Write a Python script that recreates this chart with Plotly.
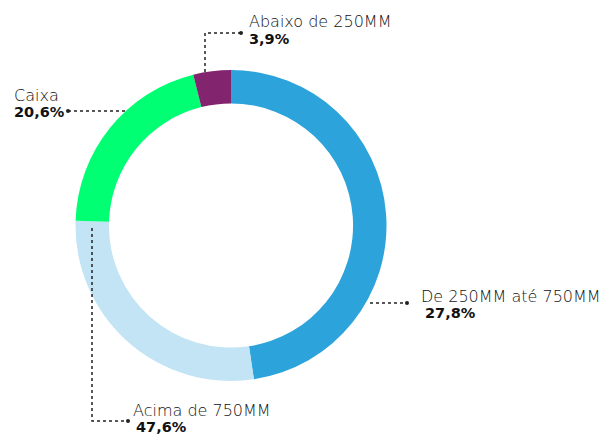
import plotly.graph_objects as go

# Data (slice order clockwise from 12 o'clock)
slice_values = [47.6, 27.8, 20.6, 3.9]
slice_colors = ["#2CA3DA", "#C2E4F4", "#00FF73", "#82246E"]

# Label texts as shown in the chart
label_names = ["Abaixo de 250MM", "Caixa", "De 250MM até 750MM", "Acima de 750MM"]
label_values = ["3,9%", "20,6%", "27,8%", "47,6%"]

# page offset (browser body margin) compensation
OFF = 8
W, H = 613 - OFF, 434 - OFF
cx, cy, R = 231, 225.5, 155.5

fig = go.Figure()
fig.add_trace(go.Pie(
    values=slice_values,
    marker=dict(colors=slice_colors, line=dict(width=0)),
    hole=0.785,
    sort=False,
    direction="clockwise",
    rotation=0,
    textinfo="none",
    hoverinfo="skip",
    showlegend=False,
    domain=dict(x=[(cx - R - OFF) / W, (cx + R - OFF) / W],
                y=[1 - (cy + R - OFF) / H, 1 - (cy - R - OFF) / H]),
))

line_style = dict(color="#222222", width=1.5, dash="dot")
# leader paths (reference pixel coordinates, layout only)
paths = [
    [(205, 72), (205, 33), (241, 33)],
    [(125, 111), (68, 111)],
    [(370, 303), (407, 303)],
    [(92, 228), (92, 421), (128, 421)],
]
dots = [(241, 33), (68, 111), (407, 303), (128, 421)]
for p in paths:
    d = "M " + " L ".join(f"{x},{y}" for x, y in p)
    fig.add_shape(type="path", path=d, xref="x", yref="y", line=line_style)
for x, y in dots:
    fig.add_shape(type="circle", xref="x", yref="y", x0=x - 2, x1=x + 2, y0=y - 2, y1=y + 2,
                  fillcolor="#222222", line=dict(width=0))

# text positions (reference pixel coordinates)
name_pos = [(247, 21), (12, 95), (419, 296), (131, 410)]
val_pos = [(247, 39), (12, 112), (423, 313), (134, 426.5)]
for i in range(4):
    fig.add_annotation(x=name_pos[i][0], y=name_pos[i][1], xref="x", yref="y", text=label_names[i],
                       showarrow=False, xanchor="left", yanchor="middle",
                       font=dict(family="DejaVu Sans", size=16, color="#111111", weight=200))
    fig.add_annotation(x=val_pos[i][0], y=val_pos[i][1], xref="x", yref="y", text=label_values[i],
                       showarrow=False, xanchor="left", yanchor="middle",
                       font=dict(family="DejaVu Sans", size=14.5, color="#111111", weight=700))

fig.update_layout(
    width=W, height=H,
    margin=dict(l=0, r=0, t=0, b=0),
    paper_bgcolor="white", plot_bgcolor="white",
    xaxis=dict(range=[OFF, 613], visible=False, fixedrange=True),
    yaxis=dict(range=[434, OFF], visible=False, fixedrange=True),
)
fig.write_html("out.html")
